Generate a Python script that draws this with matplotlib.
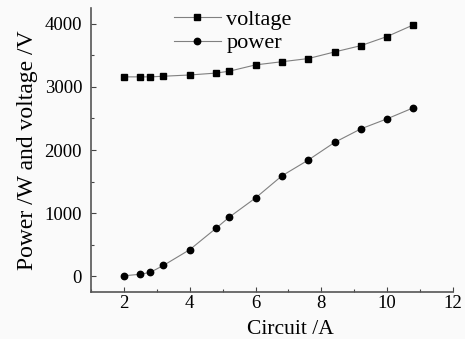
import matplotlib
matplotlib.use("Agg")
from matplotlib import pyplot as plt
from matplotlib.ticker import MultipleLocator

circuit = [2.0, 2.5, 2.8, 3.2, 4.0, 4.8, 5.2, 6.0, 6.8, 7.6, 8.4, 9.2, 10.0, 10.8]  # A
voltage = [3160, 3160, 3160, 3170, 3190, 3220, 3250, 3350, 3400, 3450, 3555, 3655, 3800, 3985]  # V
power = [5, 30, 60, 170, 420, 760, 935, 1240, 1590, 1840, 2120, 2335, 2495, 2670]  # W

plt.rcParams['font.family'] = ['Liberation Serif', 'DejaVu Serif']
plt.rcParams['font.size'] = 13.5

fig = plt.figure(figsize=(4.65, 3.39), dpi=100, facecolor='#fafafa')
ax = fig.add_axes([0.196, 0.139, 0.778, 0.837])
ax.set_facecolor('#fafafa')

ax.plot(circuit, voltage, '-s', color='#808080', lw=0.8,
        markerfacecolor='black', markeredgecolor='black', markersize=3.8, label='voltage')
ax.plot(circuit, power, '-o', color='#808080', lw=0.8,
        markerfacecolor='black', markeredgecolor='black', markersize=4.6, label='power')

ax.set_xlim(1, 12)
ax.set_ylim(-250, 4250)
ax.xaxis.set_major_locator(MultipleLocator(2))
ax.xaxis.set_minor_locator(MultipleLocator(1))
ax.yaxis.set_major_locator(MultipleLocator(1000))
ax.yaxis.set_minor_locator(MultipleLocator(500))
ax.tick_params(which='both', direction='in', color='#444444', width=0.8)
ax.tick_params(which='major', length=3.5)
ax.tick_params(which='minor', length=2)
ax.tick_params(axis='x', pad=2.5)
ax.tick_params(axis='y', pad=6.5)

for s in ['top', 'right']:
    ax.spines[s].set_visible(False)
for s in ['left', 'bottom']:
    ax.spines[s].set_color('#555555')
    ax.spines[s].set_linewidth(1.2)

ax.set_xlabel("Circuit /A", fontsize=15.5)
ax.xaxis.set_label_coords(0.552, -0.098)
ax.xaxis.label.set_verticalalignment('top')
ax.set_ylabel("Power /W and voltage /V", fontsize=17, labelpad=4.5)

ax.legend(loc='upper left', bbox_to_anchor=(174 / 465, 1 - 9 / 339),
          bbox_transform=fig.transFigure, frameon=False, fontsize=16,
          handlelength=2.1, handletextpad=0.25, labelspacing=0.15,
          borderpad=0, borderaxespad=0)

plt.savefig("out.png", dpi=100, facecolor=fig.get_facecolor())
